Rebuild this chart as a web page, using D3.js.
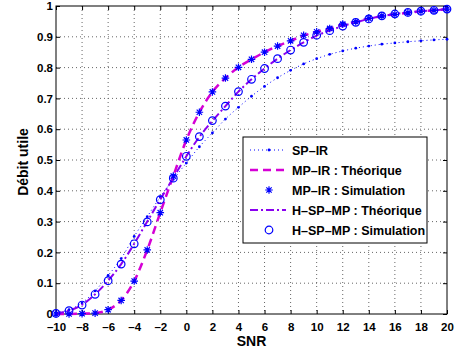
<!DOCTYPE html>
<html>
<head>
<meta charset="utf-8">
<script src="https://cdn.jsdelivr.net/npm/d3@7"></script>
<style>
  body { margin: 0; background: #fff; }
  text { font-family: "Liberation Sans", Arial, sans-serif; font-weight: bold; }
</style>
</head>
<body>
<div id="chart"></div>
<script>
// SNR points (dB)
var snr = d3.range(-10, 21, 1);

// SP-IR
var spIR = [0.004, 0.014, 0.036, 0.075, 0.125, 0.180, 0.252, 0.316, 0.380, 0.437,
            0.490, 0.543, 0.588, 0.633, 0.671, 0.707, 0.739, 0.767, 0.791, 0.812,
            0.829, 0.843, 0.854, 0.863, 0.870, 0.876, 0.880, 0.884, 0.887, 0.890, 0.892];

// MP-IR theory and simulation
var mpTheory = [0.000, 0.000, 0.001, 0.003, 0.014, 0.044, 0.107, 0.208, 0.329, 0.448,
                0.565, 0.655, 0.721, 0.766, 0.801, 0.827, 0.850, 0.870, 0.887, 0.904,
                0.916, 0.927, 0.940, 0.949, 0.959, 0.967, 0.973, 0.978, 0.983, 0.986, 0.990];
var mpSim = [0.000, 0.000, 0.001, 0.003, 0.014, 0.044, 0.107, 0.208, 0.329, 0.448,
             0.565, 0.655, 0.721, 0.766, 0.801, 0.827, 0.850, 0.870, 0.887, 0.905,
             0.916, 0.927, 0.941, 0.949, 0.960, 0.968, 0.973, 0.978, 0.983, 0.986, 0.990];

// H-SP-MP theory and simulation
var hTheory = [0.002, 0.011, 0.030, 0.064, 0.108, 0.162, 0.228, 0.300, 0.372, 0.442,
               0.512, 0.575, 0.627, 0.675, 0.722, 0.762, 0.797, 0.829, 0.857, 0.882,
               0.904, 0.920, 0.935, 0.947, 0.958, 0.967, 0.974, 0.979, 0.983, 0.986, 0.990];
var hSim = [0.002, 0.011, 0.029, 0.064, 0.108, 0.162, 0.228, 0.299, 0.371, 0.441,
            0.512, 0.576, 0.628, 0.675, 0.722, 0.762, 0.797, 0.829, 0.857, 0.882,
            0.905, 0.920, 0.935, 0.947, 0.958, 0.968, 0.974, 0.979, 0.983, 0.986, 0.990];

var xTicks = d3.range(-10, 21, 2);
var yTicks = d3.range(0, 11).map(function(i) { return i / 10; });
var legendLabels = ['SP\u2013IR', 'MP\u2013IR : Th\u00e9orique', 'MP\u2013IR : Simulation',
                    'H\u2013SP\u2013MP : Th\u00e9orique', 'H\u2013SP\u2013MP : Simulation'];

var margin = { top: 6, right: 10, bottom: 42, left: 56 },
    W = 457, H = 356,
    width = W - margin.left - margin.right,
    height = H - margin.top - margin.bottom,
    blue = '#0000ff',
    magenta = '#d500d5',
    violet = '#8a00f0';

var svg = d3.select('#chart').append('svg')
            .attr('width', W)
            .attr('height', H);
svg.append('rect').attr('width', W).attr('height', H).attr('fill', '#fff');

var g = svg.append('g')
           .attr('transform', 'translate(' + margin.left + ',' + margin.top + ')');

var x = d3.scaleLinear().domain([-10, 20]).range([0, width]);
var y = d3.scaleLinear().domain([0, 1]).range([height, 0]);

// dotted grid
g.selectAll('.gx').data(xTicks.slice(1, -1)).enter().append('line')
  .attr('x1', x).attr('x2', x).attr('y1', 0).attr('y2', height)
  .attr('stroke', '#666').attr('stroke-width', 1).attr('stroke-dasharray', '1,3');
g.selectAll('.gy').data(yTicks.slice(1, -1)).enter().append('line')
  .attr('y1', y).attr('y2', y).attr('x1', 0).attr('x2', width)
  .attr('stroke', '#666').attr('stroke-width', 1).attr('stroke-dasharray', '1,3');

// axes (inward ticks, matlab style)
var minus = function(d) { return String(d).replace('-', '\u2013'); };
var xAxis = g.append('g').attr('transform', 'translate(0,' + height + ')')
  .call(d3.axisBottom(x).tickValues(xTicks).tickSizeInner(-4).tickSizeOuter(0)
          .tickPadding(9).tickFormat(minus));
var yAxis = g.append('g')
  .call(d3.axisLeft(y).tickValues(yTicks).tickSizeInner(-4).tickSizeOuter(0)
          .tickPadding(3).tickFormat(function(d) { return d3.format('~g')(d); }));
g.append('g').attr('transform', 'translate(0,0)')
  .call(d3.axisTop(x).tickValues(xTicks).tickSizeInner(-4).tickSizeOuter(0).tickFormat(''));
g.append('g').attr('transform', 'translate(' + width + ',0)')
  .call(d3.axisRight(y).tickValues(yTicks).tickSizeInner(-4).tickSizeOuter(0).tickFormat(''));
g.selectAll('.domain').remove();
g.selectAll('.tick line').attr('stroke', '#000');
[xAxis, yAxis].forEach(function(a) {
  a.selectAll('text').attr('font-size', 11.5).attr('font-weight', 'bold')
   .attr('font-family', '"Liberation Sans", Arial, sans-serif').attr('fill', '#000');
});
g.append('rect').attr('width', width).attr('height', height)
  .attr('fill', 'none').attr('stroke', '#000').attr('stroke-width', 1);

// lines
function line(vals) {
  return d3.line()
    .x(function(d, i) { return x(snr[i]); })
    .y(function(d) { return y(d); })
    .curve(d3.curveMonotoneX)(vals);
}

g.append('path').attr('d', line(spIR)).attr('fill', 'none')
  .attr('stroke', blue).attr('stroke-width', 1).attr('stroke-dasharray', '1,3');
g.selectAll('.spdot').data(spIR).enter().append('circle')
  .attr('cx', function(d, i) { return x(snr[i]); })
  .attr('cy', y).attr('r', 1.4).attr('fill', blue);

g.append('path').attr('d', line(mpTheory)).attr('fill', 'none')
  .attr('stroke', magenta).attr('stroke-width', 2.5).attr('stroke-dasharray', '8,5');

g.append('path').attr('d', line(hTheory)).attr('fill', 'none')
  .attr('stroke', violet).attr('stroke-width', 2).attr('stroke-dasharray', '8,3,2,3');

function star(s) {
  var d = s * 0.707;
  return 'M' + (-s) + ',0L' + s + ',0M0,' + (-s) + 'L0,' + s +
         'M' + (-d) + ',' + (-d) + 'L' + d + ',' + d +
         'M' + (-d) + ',' + d + 'L' + d + ',' + (-d);
}
g.selectAll('.star').data(mpSim).enter().append('path')
  .attr('transform', function(d, i) { return 'translate(' + x(snr[i]) + ',' + y(d) + ')'; })
  .attr('d', star(3.8)).attr('stroke', blue).attr('stroke-width', 1.2).attr('fill', 'none');

g.selectAll('.circ').data(hSim).enter().append('circle')
  .attr('cx', function(d, i) { return x(snr[i]); })
  .attr('cy', y).attr('r', 3.8)
  .attr('fill', 'none').attr('stroke', blue).attr('stroke-width', 1.2);

// axis labels
svg.append('text').attr('x', margin.left + width / 2).attr('y', 346)
  .attr('text-anchor', 'middle').attr('font-size', 14).text('SNR');
svg.append('text')
  .attr('transform', 'translate(28,' + (margin.top + height / 2 + 2) + ') rotate(-90)')
  .attr('text-anchor', 'middle').attr('font-size', 14).text('D\u00e9bit utile');

// legend
var lg = svg.append('g').attr('transform', 'translate(243,137)');
lg.append('rect').attr('width', 184).attr('height', 106)
  .attr('fill', '#fff').attr('stroke', '#000').attr('stroke-width', 1);
var rows = lg.selectAll('.row').data(legendLabels).enter().append('g')
  .attr('transform', function(d, i) { return 'translate(0,' + (13 + i * 20) + ')'; });
rows.append('text').attr('x', 49).attr('y', 4.5).attr('font-size', 12.5)
  .text(function(d) { return d; });

var r0 = d3.select(rows.nodes()[0]);
r0.append('line').attr('x1', 7).attr('x2', 43).attr('stroke', blue)
  .attr('stroke-width', 1).attr('stroke-dasharray', '1,3');
r0.append('circle').attr('cx', 26).attr('r', 1.4).attr('fill', blue);
d3.select(rows.nodes()[1]).append('line').attr('x1', 7).attr('x2', 43)
  .attr('stroke', magenta).attr('stroke-width', 2.5).attr('stroke-dasharray', '8,5');
d3.select(rows.nodes()[2]).append('path').attr('transform', 'translate(26,0)')
  .attr('d', star(3.8)).attr('stroke', blue).attr('stroke-width', 1.2);
d3.select(rows.nodes()[3]).append('line').attr('x1', 7).attr('x2', 43)
  .attr('stroke', violet).attr('stroke-width', 2).attr('stroke-dasharray', '8,3,2,3');
d3.select(rows.nodes()[4]).append('circle').attr('cx', 26).attr('r', 3.8)
  .attr('fill', 'none').attr('stroke', blue).attr('stroke-width', 1.2);
</script>
</body>
</html>
